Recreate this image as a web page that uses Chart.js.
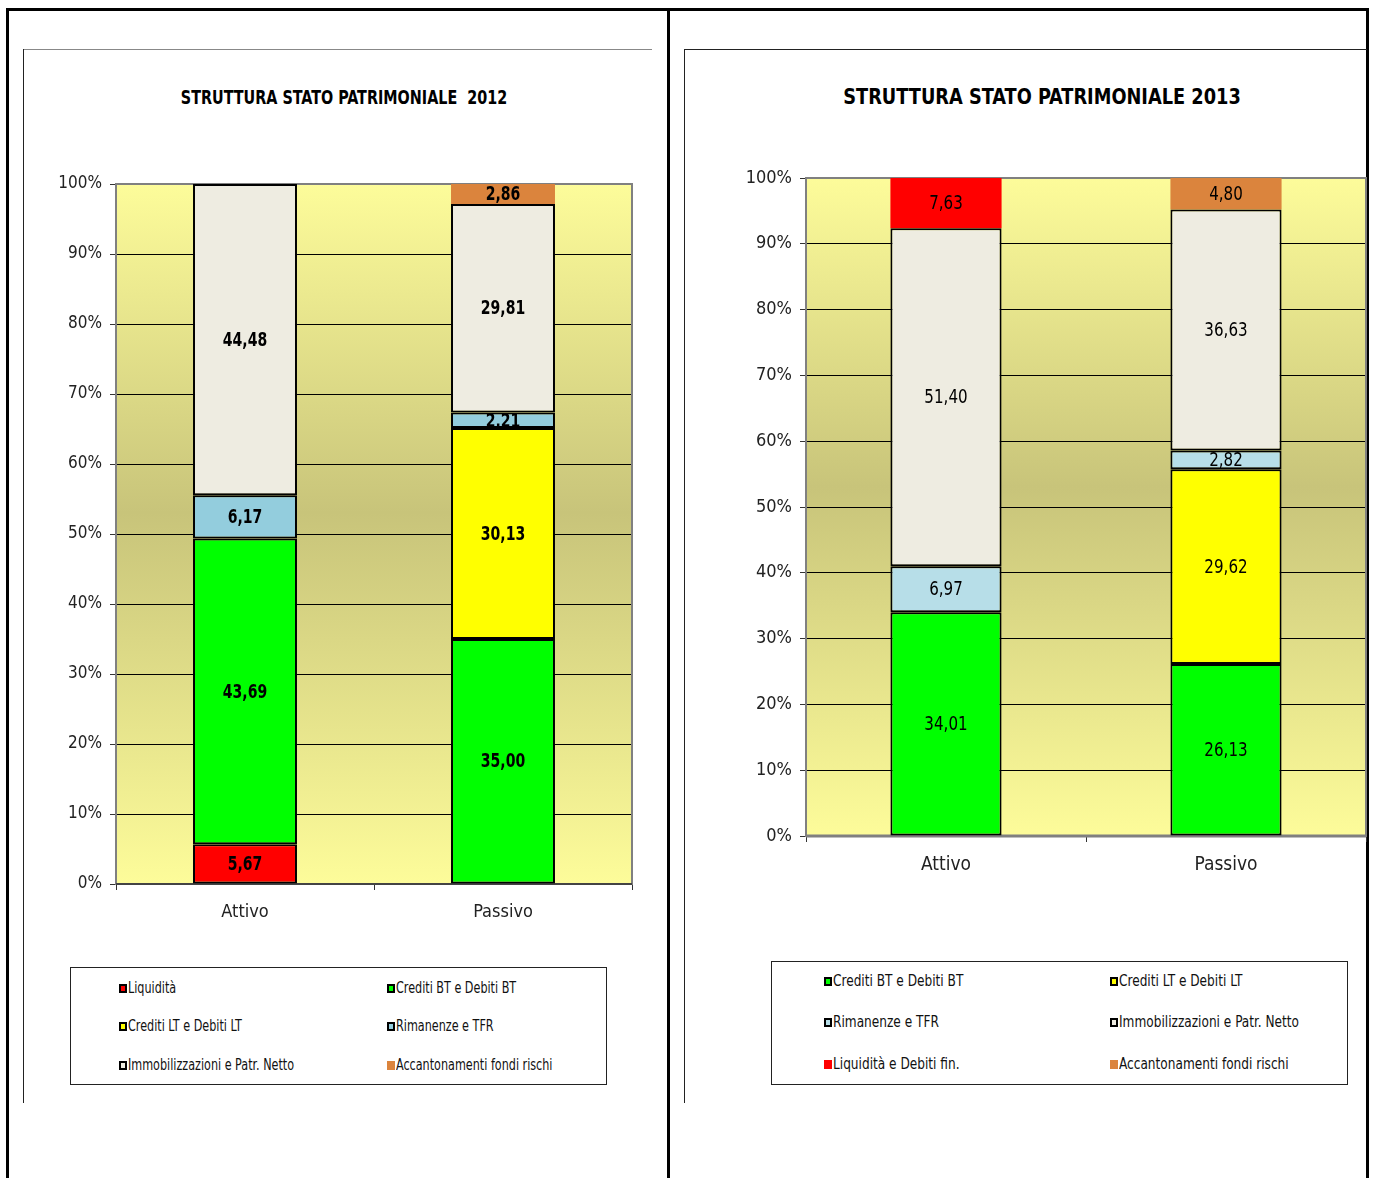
<!DOCTYPE html>
<html>
<head>
<meta charset="utf-8">
<title>Struttura Stato Patrimoniale</title>
<script src="https://cdn.jsdelivr.net/npm/chart.js@4.4.1/dist/chart.umd.min.js"></script>
<style>
  body {
    margin: 0;
    background: #fff;
    width: 1375px;
    height: 1178px;
    position: relative;
    overflow: hidden;
    font-family: "Liberation Sans Narrow", "DejaVu Sans Condensed", "Arial Narrow", sans-serif;
  }
  .line { position: absolute; background: #000; }
  .titolo {
    position: absolute;
    font-weight: bold;
    color: #000;
    text-align: center;
    white-space: nowrap;
    transform-origin: center center;
  }
  .legenda {
    position: absolute;
    border: 1px solid #222;
    box-sizing: border-box;
  }
  .voce {
    position: absolute;
    font-size: 15px;
    color: #111;
    white-space: nowrap;
    line-height: 16px;
    display: flex;
    align-items: center;
  }
  .voce span.box {
    display: inline-block;
    width: 8px;
    height: 9px;
    box-sizing: border-box;
    margin-right: 1px;
  }
  .voce span.txt {
    display: inline-block;
    transform-origin: left center;
  }
  canvas { position: absolute; }
</style>
</head>
<body>

<!-- bordi della tabella -->
<div class="line" style="left:7px;top:8px;width:1362px;height:3px"></div>
<div class="line" style="left:6px;top:8px;width:3px;height:1170px"></div>
<div class="line" style="left:667px;top:8px;width:3px;height:1170px"></div>
<div class="line" style="left:1366px;top:8px;width:3px;height:1170px"></div>

<!-- cornici dei grafici -->
<div class="line" style="left:23px;top:49px;width:629px;height:1px;background:#888"></div>
<div class="line" style="left:23px;top:49px;width:1px;height:1054px;background:#222"></div>
<div class="line" style="left:684px;top:49px;width:683px;height:1px;background:#222"></div>
<div class="line" style="left:684px;top:49px;width:1px;height:1054px;background:#222"></div>

<div class="titolo" style="left:94px;width:500px;top:86px;font-size:19px;transform:scaleX(0.84)">STRUTTURA STATO PATRIMONIALE&nbsp; 2012</div>
<div class="titolo" style="left:792px;width:500px;top:85px;font-size:21px;transform:scaleX(0.94)">STRUTTURA STATO PATRIMONIALE 2013</div>

<canvas id="chart2012" style="left:24px;top:50px" width="628" height="900"></canvas>
<canvas id="chart2013" style="left:685px;top:50px" width="682" height="900"></canvas>

<div class="legenda" id="leg2012" style="left:70px;top:967px;width:537px;height:118px"></div>
<div class="legenda" id="leg2013" style="left:771px;top:961px;width:577px;height:124px"></div>

<script>
// categorie
const categories = ["Attivo", "Passivo"];
const yTicks = [0, 10, 20, 30, 40, 50, 60, 70, 80, 90, 100];

// --- 2012 (dal basso verso l'alto) ---
const names2012 = [
  "Liquidità",
  "Crediti BT e Debiti BT",
  "Crediti LT e Debiti LT",
  "Rimanenze e TFR",
  "Immobilizzazioni e Patr. Netto",
  "Accantonamenti fondi rischi",
];
const liquidita2012 = [5.67, 0];
const creditiBT2012 = [43.69, 35.0];
const creditiLT2012 = [0, 30.13];
const rimanenze2012 = [6.17, 2.21];
const immobilizzazioni2012 = [44.48, 29.81];
const accantonamenti2012 = [0, 2.86];
const colors2012 = ["#FF0000", "#00FF00", "#FFFF00", "#93CDDD", "#EEECE1", "#DB843D"];
const borders2012 = [2, 2, 2, 2, 2, 0];

// --- 2013 (dal basso verso l'alto) ---
const names2013 = [
  "Crediti BT e Debiti BT",
  "Crediti LT e Debiti LT",
  "Rimanenze e TFR",
  "Immobilizzazioni e Patr. Netto",
  "Liquidità e Debiti fin.",
  "Accantonamenti fondi rischi",
];
const creditiBT2013 = [34.01, 26.13];
const creditiLT2013 = [0, 29.62];
const rimanenze2013 = [6.97, 2.82];
const immobilizzazioni2013 = [51.4, 36.63];
const liquidita2013 = [7.63, 0];
const accantonamenti2013 = [0, 4.8];
const colors2013 = ["#00FF00", "#FFFF00", "#B7DEE8", "#EEECE1", "#FF0000", "#DB843D"];
const borders2013 = [2, 2, 2, 2, 0, 0];

const FONT = "'Liberation Sans Narrow', 'DejaVu Sans Condensed', 'Arial Narrow', sans-serif";

// sfondo a gradiente dell'area del grafico + bordo grigio
const plotArea = {
  id: "plotArea",
  beforeDraw(chart) {
    const { ctx, chartArea: a } = chart;
    const g = ctx.createLinearGradient(0, a.top, 0, a.bottom);
    g.addColorStop(0, "#FDFC9A");
    g.addColorStop(0.47, "#C8C47A");
    g.addColorStop(1, "#FDFC9A");
    ctx.save();
    ctx.fillStyle = g;
    ctx.fillRect(a.left, a.top, a.right - a.left, a.bottom - a.top);
    ctx.restore();
  },
  beforeDatasetsDraw(chart, args, opts) {
    const { ctx, chartArea: a } = chart;
    ctx.save();
    ctx.strokeStyle = "#808080";
    ctx.lineWidth = 2;
    ctx.strokeRect(a.left, a.top, a.right - a.left, a.bottom - a.top);
    if (opts.bottomWidth) {
      ctx.strokeStyle = opts.bottomColor;
      ctx.lineWidth = opts.bottomWidth;
      ctx.beginPath();
      ctx.moveTo(a.left, a.bottom);
      ctx.lineTo(a.right, a.bottom);
      ctx.stroke();
    }
    ctx.restore();
  },
};

// etichette dei valori dentro le barre (testo stretto come l'originale)
const valueLabels = {
  id: "valueLabels",
  afterDatasetsDraw(chart, args, opts) {
    const { ctx } = chart;
    ctx.save();
    ctx.font = (opts.bold ? "bold " : "") + opts.size + "px " + FONT;
    ctx.fillStyle = "#000";
    ctx.textAlign = "center";
    ctx.textBaseline = "middle";
    chart.data.datasets.forEach((ds, i) => {
      chart.getDatasetMeta(i).data.forEach((bar, j) => {
        const v = ds.data[j];
        if (!v) return;
        ctx.save();
        ctx.translate(bar.x, (bar.y + bar.base) / 2 + 1);
        ctx.scale(opts.squeeze, 1);
        ctx.fillText(v.toFixed(2).replace(".", ","), 0, 0);
        ctx.restore();
      });
    });
    ctx.restore();
  },
};

function makeChart(id, names, series, colors, borders, cfg) {
  const datasets = names.map((n, i) => ({
    label: n,
    data: series[i],
    backgroundColor: colors[i],
    borderColor: "#000",
    borderWidth: borders[i],
    borderSkipped: false,
    categoryPercentage: 1,
    barPercentage: cfg.barPct,
  }));

  return new Chart(document.getElementById(id), {
    type: "bar",
    data: { labels: categories, datasets: datasets },
    plugins: [plotArea, valueLabels],
    options: {
      responsive: false,
      animation: false,
      layout: { padding: { top: cfg.top, right: cfg.right, bottom: 0, left: 0 } },
      plugins: {
        legend: { display: false },
        tooltip: { enabled: false },
        plotArea: { bottomWidth: cfg.bottomWidth, bottomColor: cfg.bottomColor },
        valueLabels: { bold: cfg.bold, size: cfg.labelSize, squeeze: cfg.squeeze },
      },
      scales: {
        x: {
          stacked: true,
          afterFit: (s) => { s.height = cfg.xHeight; },
          border: { display: false },
          grid: { drawOnChartArea: false, drawTicks: true, tickLength: 6, color: "#333", offset: true },
          ticks: { color: "#222", padding: 12, font: { family: FONT, size: cfg.xSize } },
        },
        y: {
          stacked: true,
          min: 0,
          max: 100,
          afterFit: (s) => { s.width = cfg.yWidth; },
          afterBuildTicks: (s) => { s.ticks = yTicks.map((v) => ({ value: v })); },
          border: { display: false },
          grid: {
            color: (c) => (c.tick && (c.tick.value === 0 || c.tick.value === 100) ? "rgba(0,0,0,0)" : "#000"),
            tickColor: "#333",
            lineWidth: 1,
            drawTicks: true,
            tickLength: 6,
          },
          ticks: {
            color: "#222",
            padding: 8,
            font: { family: FONT, size: cfg.tickSize },
            callback: (v) => v + "%",
          },
        },
      },
    },
  });
}

makeChart("chart2012", names2012,
  [liquidita2012, creditiBT2012, creditiLT2012, rimanenze2012, immobilizzazioni2012, accantonamenti2012],
  colors2012, borders2012,
  { top: 134, right: 20, xHeight: 66, yWidth: 92, barPct: 0.403, bold: true, labelSize: 20, squeeze: 0.78,
    tickSize: 17, xSize: 18, bottomWidth: 2, bottomColor: "#444" });

makeChart("chart2013", names2013,
  [creditiBT2013, creditiLT2013, rimanenze2013, immobilizzazioni2013, liquidita2013, accantonamenti2013],
  colors2013, borders2013,
  { top: 128, right: 1, xHeight: 114, yWidth: 121, barPct: 0.397, bold: false, labelSize: 20, squeeze: 0.84,
    tickSize: 18, xSize: 19, bottomWidth: 3, bottomColor: "#808080" });

// legende in due colonne
function makeLegend(id, names, colors, borders, cols, rows, squeeze) {
  const box = document.getElementById(id);
  names.forEach((n, i) => {
    const el = document.createElement("div");
    el.className = "voce";
    el.style.left = cols[i % 2] + "px";
    el.style.top = rows[Math.floor(i / 2)] - 8 + "px";
    const sq = document.createElement("span");
    sq.className = "box";
    sq.style.background = colors[i];
    if (borders[i]) sq.style.border = "2px solid #000";
    const txt = document.createElement("span");
    txt.className = "txt";
    txt.style.transform = "scaleX(" + squeeze + ")";
    txt.textContent = n;
    el.appendChild(sq);
    el.appendChild(txt);
    box.appendChild(el);
  });
}

makeLegend("leg2012", names2012, colors2012, borders2012, [48, 316], [20, 58, 97], 0.83);
makeLegend("leg2013", names2013, colors2013, borders2013, [52, 338], [19, 60, 102], 0.9);
</script>
</body>
</html>
